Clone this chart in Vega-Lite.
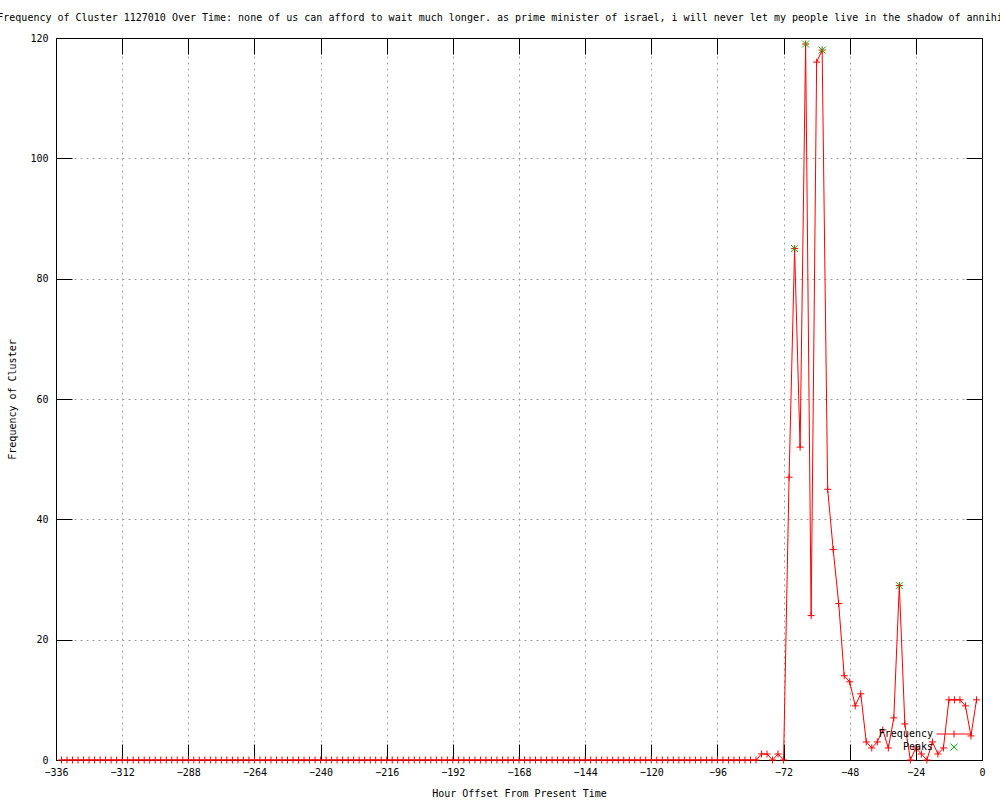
{
  "$schema": "https://vega.github.io/schema/vega-lite/v6.json",
  "width": 926,
  "height": 722,
  "autosize": {"type": "none"},
  "padding": {"left": 56, "top": 38, "right": 18, "bottom": 40},
  "background": "white",
  "title": {
    "text": "Frequency of Cluster 1127010 Over Time: none of us can afford to wait much longer. as prime minister of israel, i will never let my people live in the shadow of annihi",
    "font": "DejaVu Sans Mono",
    "fontSize": 10,
    "fontWeight": "normal",
    "color": "black",
    "anchor": "middle",
    "dx": -19,
    "offset": 10
  },
  "config": {
    "view": {"stroke": "black", "strokeWidth": 1},
    "axis": {
      "domainColor": "black",
      "tickColor": "black",
      "labelColor": "black",
      "titleColor": "black",
      "labelFont": "DejaVu Sans Mono",
      "labelFontSize": 10,
      "titleFont": "DejaVu Sans Mono",
      "titleFontSize": 10,
      "titleFontWeight": "normal",
      "gridColor": "#a0a0a0",
      "gridDash": [2, 4],
      "gridOpacity": 1,
      "labelFlush": false,
      "labelOverlap": false
    }
  },
  "datasets": {
    "freq": [
      {"hour": -334, "frequency": 0}, {"hour": -332, "frequency": 0}, {"hour": -330, "frequency": 0}, {"hour": -328, "frequency": 0},
      {"hour": -326, "frequency": 0}, {"hour": -324, "frequency": 0}, {"hour": -322, "frequency": 0}, {"hour": -320, "frequency": 0},
      {"hour": -318, "frequency": 0}, {"hour": -316, "frequency": 0}, {"hour": -314, "frequency": 0}, {"hour": -312, "frequency": 0},
      {"hour": -310, "frequency": 0}, {"hour": -308, "frequency": 0}, {"hour": -306, "frequency": 0}, {"hour": -304, "frequency": 0},
      {"hour": -302, "frequency": 0}, {"hour": -300, "frequency": 0}, {"hour": -298, "frequency": 0}, {"hour": -296, "frequency": 0},
      {"hour": -294, "frequency": 0}, {"hour": -292, "frequency": 0}, {"hour": -290, "frequency": 0}, {"hour": -288, "frequency": 0},
      {"hour": -286, "frequency": 0}, {"hour": -284, "frequency": 0}, {"hour": -282, "frequency": 0}, {"hour": -280, "frequency": 0},
      {"hour": -278, "frequency": 0}, {"hour": -276, "frequency": 0}, {"hour": -274, "frequency": 0}, {"hour": -272, "frequency": 0},
      {"hour": -270, "frequency": 0}, {"hour": -268, "frequency": 0}, {"hour": -266, "frequency": 0}, {"hour": -264, "frequency": 0},
      {"hour": -262, "frequency": 0}, {"hour": -260, "frequency": 0}, {"hour": -258, "frequency": 0}, {"hour": -256, "frequency": 0},
      {"hour": -254, "frequency": 0}, {"hour": -252, "frequency": 0}, {"hour": -250, "frequency": 0}, {"hour": -248, "frequency": 0},
      {"hour": -246, "frequency": 0}, {"hour": -244, "frequency": 0}, {"hour": -242, "frequency": 0}, {"hour": -240, "frequency": 0},
      {"hour": -238, "frequency": 0}, {"hour": -236, "frequency": 0}, {"hour": -234, "frequency": 0}, {"hour": -232, "frequency": 0},
      {"hour": -230, "frequency": 0}, {"hour": -228, "frequency": 0}, {"hour": -226, "frequency": 0}, {"hour": -224, "frequency": 0},
      {"hour": -222, "frequency": 0}, {"hour": -220, "frequency": 0}, {"hour": -218, "frequency": 0}, {"hour": -216, "frequency": 0},
      {"hour": -214, "frequency": 0}, {"hour": -212, "frequency": 0}, {"hour": -210, "frequency": 0}, {"hour": -208, "frequency": 0},
      {"hour": -206, "frequency": 0}, {"hour": -204, "frequency": 0}, {"hour": -202, "frequency": 0}, {"hour": -200, "frequency": 0},
      {"hour": -198, "frequency": 0}, {"hour": -196, "frequency": 0}, {"hour": -194, "frequency": 0}, {"hour": -192, "frequency": 0},
      {"hour": -190, "frequency": 0}, {"hour": -188, "frequency": 0}, {"hour": -186, "frequency": 0}, {"hour": -184, "frequency": 0},
      {"hour": -182, "frequency": 0}, {"hour": -180, "frequency": 0}, {"hour": -178, "frequency": 0}, {"hour": -176, "frequency": 0},
      {"hour": -174, "frequency": 0}, {"hour": -172, "frequency": 0}, {"hour": -170, "frequency": 0}, {"hour": -168, "frequency": 0},
      {"hour": -166, "frequency": 0}, {"hour": -164, "frequency": 0}, {"hour": -162, "frequency": 0}, {"hour": -160, "frequency": 0},
      {"hour": -158, "frequency": 0}, {"hour": -156, "frequency": 0}, {"hour": -154, "frequency": 0}, {"hour": -152, "frequency": 0},
      {"hour": -150, "frequency": 0}, {"hour": -148, "frequency": 0}, {"hour": -146, "frequency": 0}, {"hour": -144, "frequency": 0},
      {"hour": -142, "frequency": 0}, {"hour": -140, "frequency": 0}, {"hour": -138, "frequency": 0}, {"hour": -136, "frequency": 0},
      {"hour": -134, "frequency": 0}, {"hour": -132, "frequency": 0}, {"hour": -130, "frequency": 0}, {"hour": -128, "frequency": 0},
      {"hour": -126, "frequency": 0}, {"hour": -124, "frequency": 0}, {"hour": -122, "frequency": 0}, {"hour": -120, "frequency": 0},
      {"hour": -118, "frequency": 0}, {"hour": -116, "frequency": 0}, {"hour": -114, "frequency": 0}, {"hour": -112, "frequency": 0},
      {"hour": -110, "frequency": 0}, {"hour": -108, "frequency": 0}, {"hour": -106, "frequency": 0}, {"hour": -104, "frequency": 0},
      {"hour": -102, "frequency": 0}, {"hour": -100, "frequency": 0}, {"hour": -98, "frequency": 0}, {"hour": -96, "frequency": 0},
      {"hour": -94, "frequency": 0}, {"hour": -92, "frequency": 0}, {"hour": -90, "frequency": 0}, {"hour": -88, "frequency": 0},
      {"hour": -86, "frequency": 0}, {"hour": -84, "frequency": 0}, {"hour": -82, "frequency": 0}, {"hour": -80, "frequency": 1},
      {"hour": -78, "frequency": 1}, {"hour": -76, "frequency": 0}, {"hour": -74, "frequency": 1}, {"hour": -72, "frequency": 0},
      {"hour": -70, "frequency": 47}, {"hour": -68, "frequency": 85}, {"hour": -66, "frequency": 52}, {"hour": -64, "frequency": 119},
      {"hour": -62, "frequency": 24}, {"hour": -60, "frequency": 116}, {"hour": -58, "frequency": 118}, {"hour": -56, "frequency": 45},
      {"hour": -54, "frequency": 35}, {"hour": -52, "frequency": 26}, {"hour": -50, "frequency": 14}, {"hour": -48, "frequency": 13},
      {"hour": -46, "frequency": 9}, {"hour": -44, "frequency": 11}, {"hour": -42, "frequency": 3}, {"hour": -40, "frequency": 2},
      {"hour": -38, "frequency": 3}, {"hour": -36, "frequency": 5}, {"hour": -34, "frequency": 2}, {"hour": -32, "frequency": 7},
      {"hour": -30, "frequency": 29}, {"hour": -28, "frequency": 6}, {"hour": -26, "frequency": 0}, {"hour": -24, "frequency": 2},
      {"hour": -22, "frequency": 1}, {"hour": -20, "frequency": 0}, {"hour": -18, "frequency": 3}, {"hour": -16, "frequency": 1},
      {"hour": -14, "frequency": 2}, {"hour": -12, "frequency": 10}, {"hour": -10, "frequency": 10}, {"hour": -8, "frequency": 10},
      {"hour": -6, "frequency": 9}, {"hour": -4, "frequency": 4}, {"hour": -2, "frequency": 10}
    ],
    "peaks": [
      {"hour": -68, "frequency": 85},
      {"hour": -64, "frequency": 119},
      {"hour": -58, "frequency": 118},
      {"hour": -30, "frequency": 29}
    ]
  },
  "layer": [
    {
      "data": {"name": "freq"},
      "mark": {"type": "line", "color": "#ff0000", "strokeWidth": 1},
      "encoding": {
        "x": {
          "field": "hour", "type": "quantitative",
          "scale": {"domain": [-336, 0], "nice": false, "zero": false},
          "axis": {
            "orient": "bottom",
            "values": [-336, -312, -288, -264, -240, -216, -192, -168, -144, -120, -96, -72, -48, -24, 0],
            "grid": true, "tickSize": -16, "labelPadding": 23,
            "title": "Hour Offset From Present Time", "titlePadding": 11
          }
        },
        "y": {
          "field": "frequency", "type": "quantitative",
          "scale": {"domain": [0, 120], "nice": false, "zero": true},
          "axis": {
            "orient": "left",
            "values": [0, 20, 40, 60, 80, 100, 120],
            "grid": true, "tickSize": -16, "labelPadding": 24,
            "title": "Frequency of Cluster", "titlePadding": 12
          }
        }
      }
    },
    {
      "data": {"name": "freq"},
      "mark": {"type": "point", "shape": "M-1,0H1M0,-1V1", "filled": false, "size": 49, "strokeWidth": 1, "opacity": 1},
      "encoding": {
        "x": {
          "field": "hour", "type": "quantitative",
          "axis": {
            "orient": "top", "labels": false, "grid": false, "title": null, "tickSize": -16,
            "values": [-336, -312, -288, -264, -240, -216, -192, -168, -144, -120, -96, -72, -48, -24, 0]
          }
        },
        "y": {
          "field": "frequency", "type": "quantitative",
          "axis": {
            "orient": "right", "labels": false, "grid": false, "title": null, "tickSize": -16,
            "values": [0, 20, 40, 60, 80, 100, 120]
          }
        },
        "color": {
          "datum": "Frequency", "type": "nominal",
          "scale": {"domain": ["Frequency", "Peaks"], "range": ["#ff0000", "#00c000"]},
          "legend": {
            "orient": "none", "legendX": 893, "legendY": 691, "title": null,
            "labelAlign": "right", "labelOffset": -26, "labelFont": "DejaVu Sans Mono", "labelFontSize": 10, "labelColor": "black",
            "symbolSize": 49, "symbolStrokeWidth": 1, "rowPadding": 1, "padding": 0,
            "symbolType": {"expr": "datum.value == 'Frequency' ? 'M-5,0H5M0,-1V1' : 'M-1,-1L1,1M-1,1L1,-1'"},
            "encode": {
              "symbols": {
                "shape": {"value": {"expr": "datum.value == 'Frequency' ? 'M-5,0H5M0,-1V1' : 'M-1,-1L1,1M-1,1L1,-1'"}},
                "fill": {"value": "transparent"}
              }
            }
          }
        }
      }
    },
    {
      "data": {"name": "peaks"},
      "mark": {"type": "point", "shape": "M-1,-1L1,1M-1,1L1,-1", "filled": false, "size": 49, "strokeWidth": 1, "opacity": 1},
      "encoding": {
        "x": {"field": "hour", "type": "quantitative", "axis": null},
        "y": {"field": "frequency", "type": "quantitative", "axis": null},
        "color": {
          "datum": "Peaks", "type": "nominal",
          "legend": {
            "orient": "none", "legendX": 893, "legendY": 691, "title": null,
            "labelAlign": "right", "labelOffset": -26, "labelFont": "DejaVu Sans Mono", "labelFontSize": 10, "labelColor": "black",
            "symbolSize": 49, "symbolStrokeWidth": 1, "rowPadding": 1, "padding": 0,
            "symbolType": {"expr": "datum.value == 'Frequency' ? 'M-5,0H5M0,-1V1' : 'M-1,-1L1,1M-1,1L1,-1'"},
            "encode": {
              "symbols": {
                "shape": {"value": {"expr": "datum.value == 'Frequency' ? 'M-5,0H5M0,-1V1' : 'M-1,-1L1,1M-1,1L1,-1'"}},
                "fill": {"value": "transparent"}
              }
            }
          }
        }
      }
    }
  ],
  "resolve": {"axis": {"x": "independent", "y": "independent"}}
}
